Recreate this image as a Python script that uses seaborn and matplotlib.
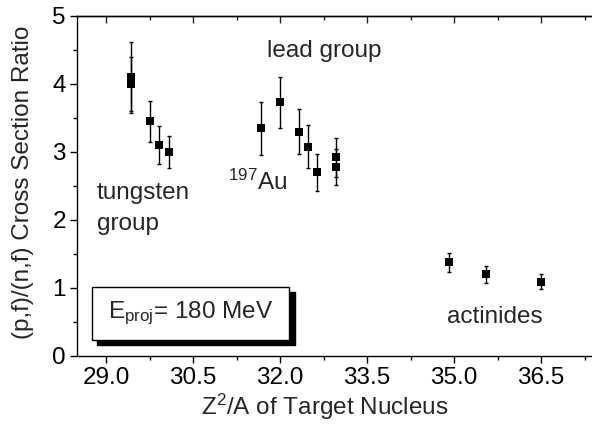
import matplotlib
matplotlib.use("Agg")
import matplotlib.pyplot as plt
import matplotlib.patches as mpatches
import seaborn as sns
import pandas as pd

# data
z2a = [29.43, 29.43, 29.75, 29.91, 30.08,
       31.67, 32.00, 32.33, 32.48, 32.64, 32.96, 32.96,
       34.91, 35.56, 36.50]
ratio = [4.10, 4.00, 3.45, 3.10, 3.00,
         3.35, 3.73, 3.30, 3.08, 2.70, 2.92, 2.78,
         1.38, 1.20, 1.09]
err = [0.52, 0.40, 0.30, 0.28, 0.23,
       0.39, 0.37, 0.33, 0.31, 0.27, 0.29, 0.27,
       0.14, 0.12, 0.11]
group = ["tungsten"] * 5 + ["lead"] * 7 + ["actinides"] * 3

x_major = [29.0, 30.5, 32.0, 33.5, 35.0, 36.5]
x_minor = [29.75, 31.25, 32.75, 34.25, 35.75, 37.25]
x_labels = ["29.0", "30.5", "32.0", "33.5", "35.0", "36.5"]
y_major = [0, 1, 2, 3, 4, 5]
y_minor = [0.5, 1.5, 2.5, 3.5, 4.5]

df = pd.DataFrame({"z2a": z2a, "ratio": ratio, "err": err, "group": group})

sns.set_theme(style="ticks")
plt.rcParams["font.family"] = ["Liberation Sans", "DejaVu Sans"]
plt.rcParams["mathtext.default"] = "regular"
plt.rcParams["mathtext.fontset"] = "custom"
plt.rcParams["mathtext.rm"] = "Liberation Sans"

FS = 17.5
fig = plt.figure(figsize=(5.92, 4.24), dpi=100)
ax = fig.add_axes([77 / 592, 68 / 424, 522 / 592, 340 / 424])

ax.errorbar(df["z2a"], df["ratio"], yerr=df["err"], fmt="none",
            ecolor="black", elinewidth=1.0, capsize=1.5, capthick=1.0, zorder=2)
sns.scatterplot(data=df, x="z2a", y="ratio", marker="s", s=30, color="black",
                edgecolor="black", linewidth=0, legend=False, ax=ax, zorder=3)

ax.set_xlim(28.5, 37.5)
ax.set_ylim(0, 5)
ax.set_xticks(x_major)
ax.set_xticklabels(x_labels)
ax.set_xticks(x_minor, minor=True)
ax.set_yticks(y_major)
ax.set_yticks(y_minor, minor=True)

for s in ["left", "bottom", "top"]:
    ax.spines[s].set_visible(True)
    ax.spines[s].set_color("black")
    ax.spines[s].set_linewidth(1.0)
ax.spines["right"].set_visible(False)

ax.tick_params(which="major", direction="out", length=5, width=1, colors="black",
               labelsize=FS, pad=3)
ax.tick_params(which="minor", direction="out", length=3, width=1, colors="black")

sec = ax.secondary_xaxis("top")
sec.set_xticks(x_major)
sec.set_xticks(x_minor, minor=True)
sec.tick_params(which="major", direction="in", length=5, width=1, labeltop=False)
sec.tick_params(which="minor", direction="in", length=3, width=1)
sec.spines["top"].set_linewidth(1.0)

ax.set_xlabel(r"Z$^{2}$/A of Target Nucleus", fontsize=FS)
ax.xaxis.set_label_coords((325 - 77) / 522, -0.106)
ax.set_ylabel("(p,f)/(n,f) Cross Section Ratio", fontsize=FS)
ax.yaxis.set_label_coords(-0.082, (356 - 182) / 340)

ax.text(32.77, 4.48, "lead group", fontsize=FS, ha="center", va="center")
ax.text(28.84, 2.40, "tungsten", fontsize=FS, ha="left", va="center")
ax.text(28.84, 1.94, "group", fontsize=FS, ha="left", va="center")
ax.text(31.1, 2.55, r"$^{197}$Au", fontsize=FS, ha="left", va="center")
ax.text(35.7, 0.58, "actinides", fontsize=FS, ha="center", va="center")

# annotation box with shadow
bx0, bx1, by0, by1 = 28.76, 32.16, 0.235, 1.01
ax.add_patch(mpatches.Rectangle((bx0 + 0.09, by0 - 0.075), bx1 - bx0, by1 - by0,
                                facecolor="black", edgecolor="black", zorder=4))
ax.add_patch(mpatches.Rectangle((bx0, by0), bx1 - bx0, by1 - by0,
                                facecolor="white", edgecolor="black", linewidth=1.0, zorder=5))
ax.text((bx0 + bx1) / 2, (by0 + by1) / 2, r"E$_{proj}$= 180 MeV", fontsize=FS,
        ha="center", va="center", zorder=6)

fig.savefig("out.png", dpi=100)
